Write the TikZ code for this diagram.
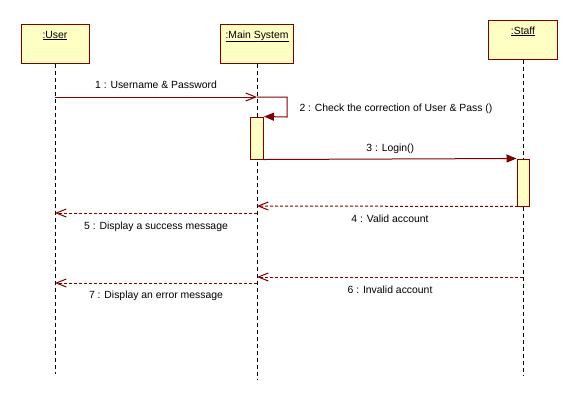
\documentclass[tikz,border=0pt]{standalone}
\usepackage{fontspec}
\setmainfont{Liberation Sans}
\usepackage{xcolor}
\usepackage{tikz}
\usetikzlibrary{arrows.meta}
\definecolor{umlred}{HTML}{800000}
\definecolor{umlfill}{HTML}{FFFFC4}
\tikzset{>={Straight Barb[length=10pt,width=8pt,line width=1pt]}}
\tikzset{
  object/.style={rectangle,draw=umlred,fill=umlfill,line width=1pt,inner sep=0pt,minimum height=39pt,text height=14pt,text depth=25pt,font=\fontsize{10.4}{12}\selectfont},
  activation/.style={rectangle,draw=umlred,fill=umlfill,line width=1pt,inner sep=0pt},
  lifeline/.style={draw=black,line width=0.9pt,dash pattern=on 4pt off 3pt},
  send/.style={draw=umlred,line width=1pt,->},
  call/.style={draw=umlred,line width=1pt,-{Triangle[length=10pt,width=8pt]}},
  reply/.style={draw=umlred,line width=1pt,dash pattern=on 3pt off 2pt,->},
  msg/.style={text=black,font=\fontsize{10.4}{12}\selectfont,inner sep=0pt}
}

\begin{document}
\begin{tikzpicture}[x=1pt,y=-1pt]
  \useasboundingbox (0,0) rectangle (577,400);
  % objects
  \node[object,minimum width=68pt] (User) at (55,43.5) {\underline{:User}};
  \node[object,minimum width=73pt] (Main) at (257,43.5) {\underline{:Main System}};
  \node[object,minimum width=69pt] (Staff) at (523,39.5) {\underline{:Staff}};
  % lifelines
  \coordinate (UserEnd) at (55,374);
  \coordinate (MainEnd) at (257,380);
  \coordinate (StaffEnd) at (523,375);
  \draw[lifeline] (User) -- (UserEnd);
  \draw[lifeline] (Main) -- (MainEnd);
  \draw[lifeline] (Staff) -- (StaffEnd);
  % activations
  \node[activation,minimum width=13pt,minimum height=42pt] (MainAct) at (257,138) {};
  \node[activation,minimum width=12pt,minimum height=47pt] (StaffAct) at (523,182.5) {};
  % messages
  \coordinate (U1) at (55,97);
  \coordinate (M1) at (257,97);
  \draw[send] (U1) -- node[msg,anchor=base,yshift=9pt]{1 : Username \& Password} (M1);
  \draw[call] (M1) -- ++(30,0) -- node[msg,anchor=base west,xshift=12pt,yshift=-4pt]{2 : Check the correction of User \& Pass ()} ++(0,20) -- (MainAct.north east);
  \draw[call] (MainAct.south east) -- node[msg,anchor=base,yshift=8pt]{3 : Login()} (StaffAct.north west);
  \coordinate (M4) at (257,206);
  \draw[reply] (StaffAct.south) -- node[msg,anchor=base,yshift=-16.5pt]{4 : Valid account} (M4);
  \coordinate (M5) at (257,213);
  \coordinate (U5) at (55,213);
  \draw[reply] (M5) -- node[msg,anchor=base,yshift=-16.5pt]{5 : Display a success message} (U5);
  \coordinate (S6) at (523,277);
  \coordinate (M6) at (257,277);
  \draw[reply] (S6) -- node[msg,anchor=base,yshift=-16pt]{6 : Invalid account} (M6);
  \coordinate (M7) at (257,283);
  \coordinate (U7) at (55,283);
  \draw[reply] (M7) -- node[msg,anchor=base,yshift=-15.5pt]{7 : Display an error message} (U7);
\end{tikzpicture}
\end{document}
